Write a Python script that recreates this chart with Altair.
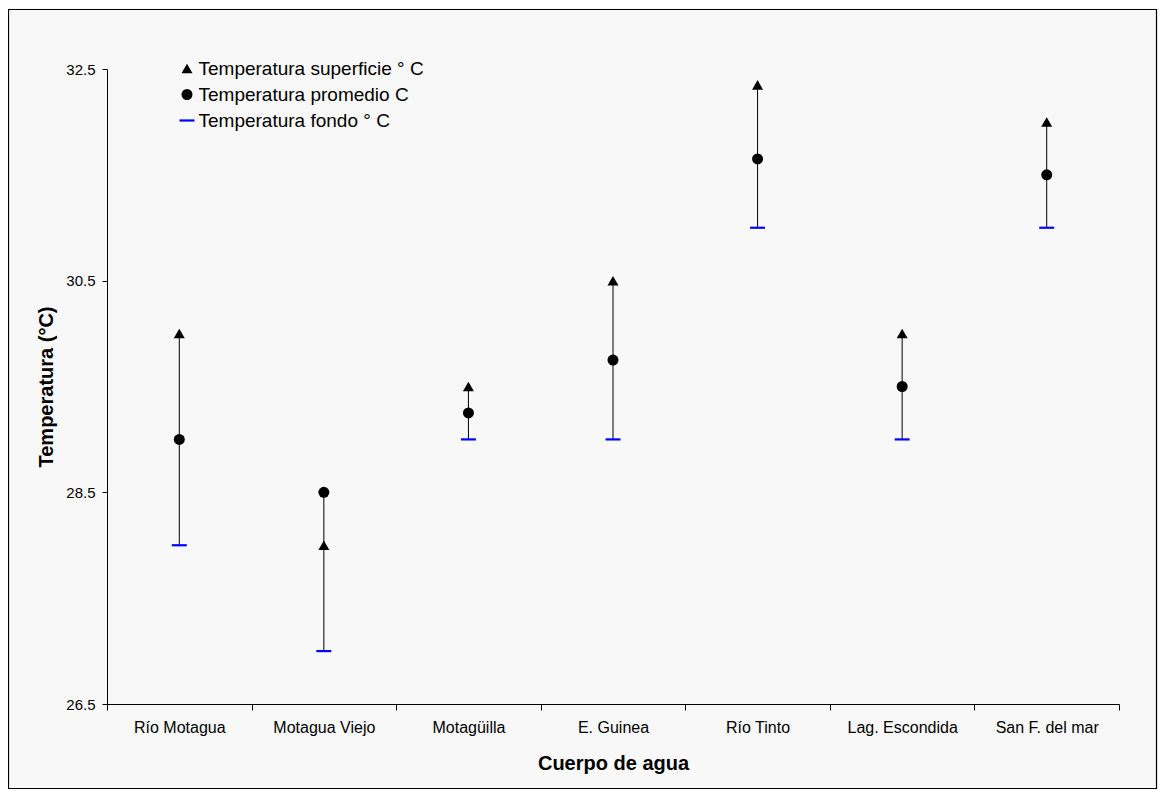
import altair as alt
import pandas as pd

categories = ["Río Motagua", "Motagua Viejo", "Motagüilla", "E. Guinea",
              "Río Tinto", "Lag. Escondida", "San F. del mar"]
temp_superficie = [30.0, 28.0, 29.5, 30.5, 32.35, 30.0, 32.0]
temp_promedio = [29.0, 28.5, 29.25, 29.75, 31.65, 29.5, 31.5]
temp_fondo = [28.0, 27.0, 29.0, 29.0, 31.0, 29.0, 31.0]
series_names = ["Temperatura superficie ° C", "Temperatura promedio C", "Temperatura fondo ° C"]
y_ticks = [26.5, 28.5, 30.5, 32.5]

W, H = 1012, 635
PAD_L, PAD_T, PAD_R, PAD_B = 99, 61, 39, 86
FONT = "Liberation Sans"

rng = pd.DataFrame({
    "cat": categories,
    "low": [min(a, b, c) for a, b, c in zip(temp_superficie, temp_promedio, temp_fondo)],
    "high": [max(a, b, c) for a, b, c in zip(temp_superficie, temp_promedio, temp_fondo)],
})

rows = []
for name, vals in zip(series_names, [temp_superficie, temp_promedio, temp_fondo]):
    for c, v in zip(categories, vals):
        rows.append({"cat": c, "serie": name, "val": v})
pts = pd.DataFrame(rows)

x_enc = alt.X("cat:N", sort=categories,
              scale=alt.Scale(domain=categories, paddingInner=0, paddingOuter=0),
              axis=alt.Axis(title="Cuerpo de agua", labelAngle=0, tickBand="extent",
                            labelFontSize=16, labelPadding=9, tickSize=6,
                            titleFontSize=20, titleFontWeight="bold",
                            titleX=W / 2, titleY=59, titleBaseline="middle"))
y_scale = alt.Scale(domain=[26.5, 32.5], nice=False, zero=False)
y_axis = alt.Axis(title="Temperatura (°C)", values=y_ticks, format=".1f", grid=False,
                  labelFontSize=15, labelPadding=7, tickSize=5,
                  titleFontSize=20, titleFontWeight="bold", titleAngle=-90,
                  titleX=-61, titleY=H / 2, titleAlign="center", titleBaseline="middle")

rules = alt.Chart(rng).mark_rule(color="black", strokeWidth=1).encode(
    x=x_enc,
    y=alt.Y("low:Q", scale=y_scale, axis=y_axis),
    y2="high:Q",
)

legend = alt.Legend(title=None, orient="none", legendX=70.5, legendY=-10,
                    labelFontSize=19, labelOffset=2, rowPadding=6, labelLimit=0,
                    symbolSize=121, symbolStrokeWidth=0, padding=0,
                    labelColor="black")

fondo_path = "M-1.36,-0.2L1.36,-0.2L1.36,0.2L-1.36,0.2Z"
points = alt.Chart(pts).mark_point(filled=True, opacity=1, size=121).encode(
    x=alt.X("cat:N", sort=categories),
    y=alt.Y("val:Q", scale=y_scale),
    shape=alt.Shape("serie:N",
                    scale=alt.Scale(domain=series_names,
                                    range=["triangle-up", "circle", fondo_path]),
                    legend=legend),
    color=alt.Color("serie:N",
                    scale=alt.Scale(domain=series_names,
                                    range=["#000000", "#000000", "#0000ff"]),
                    legend=legend),
)

frame = alt.Chart(pd.DataFrame({"k": [0]})).mark_rect(
    fill=None, stroke="black", strokeWidth=1.2, clip=False
).encode(
    x=alt.value(-PAD_L + 0.5), x2=alt.value(W + PAD_R - 1.5),
    y=alt.value(-PAD_T + 1.5), y2=alt.value(H + PAD_B - 1.5),
)

chart = alt.layer(frame, rules, points).properties(
    width=W, height=H,
    autosize=alt.AutoSizeParams(type="none"),
    padding={"left": PAD_L, "top": PAD_T, "right": PAD_R, "bottom": PAD_B},
    background="#f8f8f8",
).configure(
    font=FONT,
).configure_view(
    stroke=None,
).configure_axis(
    domainColor="black", tickColor="black", labelColor="black", titleColor="black",
    labelFont=FONT, titleFont=FONT,
).configure_legend(
    labelFont=FONT,
)

chart.save("out.html", embed_options={"renderer": "svg", "actions": False})
